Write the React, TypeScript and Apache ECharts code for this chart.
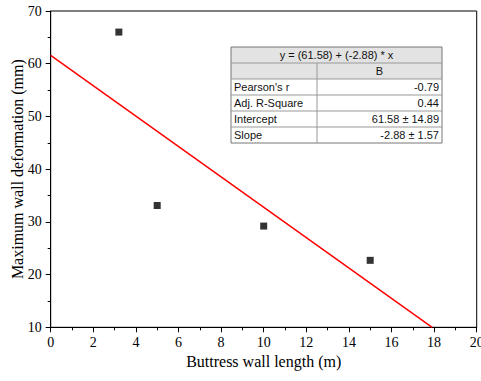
import React, { useEffect, useRef } from "react";
import * as echarts from "echarts";

const xValues = [3.2, 5, 10, 15];
const yValues = [66, 33.1, 29.2, 22.7];
const intercept = 61.58;
const slope = -2.88;
const fitTitle = "y = (61.58) + (-2.88) * x";
const colHeader = "B";
const rowLabels = ["Pearson's r", "Adj. R-Square", "Intercept", "Slope"];
const rowValues = ["-0.79", "0.44", "61.58 ± 14.89", "-2.88 ± 1.57"];

export default function App() {
  const ref = useRef<HTMLDivElement>(null);
  useEffect(() => {
    if (!ref.current) return;
    const chart = echarts.init(ref.current, undefined, { renderer: "svg" });
    const xEnd = (10 - intercept) / slope;
    const tx = 231, ty = 47, tw = 211, rh = 16, split = 317;
    const gfx: any[] = [];
    gfx.push({ type: "rect", shape: { x: tx, y: ty, width: tw, height: rh * 2 }, style: { fill: "#e3e3e3", stroke: "none" } });
    gfx.push({ type: "rect", shape: { x: tx, y: ty + rh * 2, width: tw, height: rh * 4 }, style: { fill: "#fff", stroke: "none" } });
    gfx.push({ type: "rect", shape: { x: tx, y: ty, width: tw, height: rh * 6 }, style: { fill: "none", stroke: "#777", lineWidth: 1 } });
    for (let i = 1; i < 6; i++) {
      gfx.push({ type: "line", shape: { x1: tx, y1: ty + rh * i, x2: tx + tw, y2: ty + rh * i }, style: { stroke: "#999", lineWidth: 1 } });
    }
    gfx.push({ type: "line", shape: { x1: split, y1: ty + rh, x2: split, y2: ty + rh * 6 }, style: { stroke: "#999", lineWidth: 1 } });
    const font = { fontFamily: "Liberation Sans", fontSize: 11, fill: "#111" };
    gfx.push({ type: "text", x: tx + tw / 2, y: ty + rh / 2, style: { ...font, text: fitTitle, align: "center", verticalAlign: "middle" } });
    gfx.push({ type: "text", x: (split + tx + tw) / 2, y: ty + rh * 1.5, style: { ...font, text: colHeader, align: "center", verticalAlign: "middle" } });
    rowLabels.forEach((l, i) => {
      gfx.push({ type: "text", x: tx + 3, y: ty + rh * (2.5 + i), style: { ...font, text: l, align: "left", verticalAlign: "middle" } });
      gfx.push({ type: "text", x: tx + tw - 3, y: ty + rh * (2.5 + i), style: { ...font, text: rowValues[i], align: "right", verticalAlign: "middle" } });
    });

    const axisCommon = {
      axisLine: { show: true, lineStyle: { color: "#000", width: 1 } },
      axisTick: { show: true, inside: false, length: 5, lineStyle: { color: "#000" } },
      minorTick: { show: true, splitNumber: 2, length: 3, lineStyle: { color: "#000" } },
      splitLine: { show: false },
      axisLabel: { color: "#000", fontFamily: "Liberation Serif", fontSize: 14 },
      nameLocation: "middle" as const,
      nameMoveOverlap: false,
      nameTextStyle: { color: "#000", fontFamily: "Liberation Serif", fontSize: 16 },
    };
    chart.setOption({
      animation: false,
      grid: { left: 50.7, right: 4.3, top: 11, bottom: 53.7, show: true, borderColor: "#000", borderWidth: 1, backgroundColor: "transparent", outerBoundsMode: "none", containLabel: false },
      xAxis: { ...axisCommon, type: "value", min: 0, max: 20, interval: 2, name: "Buttress wall length (m)", nameGap: 26, axisLabel: { ...axisCommon.axisLabel, margin: 8 } },
      yAxis: { ...axisCommon, type: "value", min: 10, max: 70, interval: 10, name: "Maximum wall deformation (mm)", nameGap: 25, axisLabel: { ...axisCommon.axisLabel, margin: 9 } },
      series: [
        { type: "line", data: [[0, intercept], [xEnd, 10]], symbol: "none", lineStyle: { color: "#ff0000", width: 1.5 }, z: 2 },
        { type: "scatter", data: xValues.map((x, i) => [x, yValues[i]]), symbol: "rect", symbolSize: 7, itemStyle: { color: "#000" }, z: 3 },
      ],
      graphic: gfx,
    });
    return () => chart.dispose();
  }, []);
  return <div ref={ref} style={{ width: 481, height: 381, position: "absolute", left: 0, top: 0, background: "#fff" }} />;
}
